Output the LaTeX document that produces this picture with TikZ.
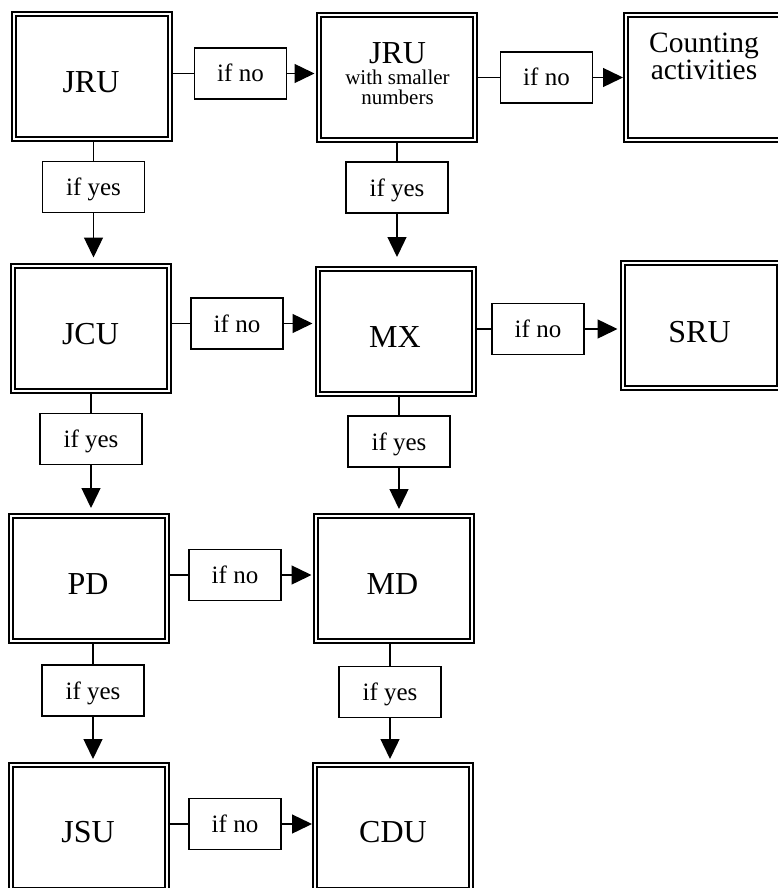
\documentclass[tikz,border=0pt]{standalone}
\usepackage{fontspec}
\setmainfont{Liberation Serif}
\usetikzlibrary{arrows.meta}
\begin{document}
\begin{tikzpicture}[x=1pt,y=-1pt,
  bigbox/.style={draw, line width=2pt, double, double distance=2pt,
    minimum width=156pt, minimum height=125pt, inner sep=0pt, outer sep=3pt},
  bigtext/.style={font=\fontsize{32}{32}\selectfont, inner sep=0pt, anchor=base},
  lblbox/.style={draw, line width=1.4pt, minimum height=51pt, inner sep=0pt,
    font=\fontsize{25}{25}\selectfont, text height=17pt, text depth=0pt},
  yesbox/.style={lblbox, minimum width=102pt},
  nobox/.style={lblbox, minimum width=92pt},
  conn/.style={line width=1.4pt},
  arr/.style={line width=1.4pt, -{Triangle[length=20pt,width=19pt]}}
]
\useasboundingbox (0,0) rectangle (777,888);

% main boxes
\node[bigbox] (jru)  at (92,76.5)    {};
\node[bigbox] (jru2) at (396.5,77.5) {};
\node[bigbox] (cnt)  at (704,77.5)   {};
\node[bigbox] (jcu)  at (91,328)     {};
\node[bigbox] (mx)   at (395.5,331.5){};
\node[bigbox] (sru)  at (700.5,325.5){};
\node[bigbox] (pd)   at (89,578.5)   {};
\node[bigbox] (md)   at (393.5,578.5){};
\node[bigbox] (jsu)  at (89,827.5)   {};
\node[bigbox] (cdu)  at (393,827.5)  {};

% texts
\node[bigtext] (jrut) at (91,93) {JRU};
\node[anchor=base, align=center, inner sep=0pt, font=\fontsize{21}{20}\selectfont] (jru2t) at (397.5,105)
  {{\fontsize{32}{22}\selectfont JRU}\\[1pt] with smaller\\ numbers};
\node[anchor=base, align=center, inner sep=0pt, font=\fontsize{29.5}{27}\selectfont] (cntt) at (704,80)
  {Counting\\ activities};
\node[bigtext] (jcut) at (90.5,344) {JCU};
\node[bigtext] (mxt)  at (395,347)  {MX};
\node[bigtext] (srut) at (699.5,342){SRU};
\node[bigtext] (pdt)  at (88,594)   {PD};
\node[bigtext] (mdt)  at (392.5,594){MD};
\node[bigtext] (jsut) at (88,842)   {JSU};
\node[bigtext] (cdut) at (393,842)  {CDU};

% label boxes
\node[yesbox] (yes1) at (93.5,187)  {if yes};
\node[yesbox] (yes2) at (397,187.5) {if yes};
\node[yesbox] (yes3) at (91,439)    {if yes};
\node[yesbox] (yes4) at (399,441.5) {if yes};
\node[yesbox] (yes5) at (93,690.5)  {if yes};
\node[yesbox] (yes6) at (390,692)   {if yes};
\node[nobox] (no1) at (240.5,73.5) {if no};
\node[nobox] (no2) at (546.5,77.5) {if no};
\node[nobox] (no3) at (237,323.5)  {if no};
\node[nobox] (no4) at (538,329)    {if no};
\node[nobox] (no5) at (235,575)    {if no};
\node[nobox] (no6) at (235,824)    {if no};

% vertical connectors
\draw[conn] (jru.south -| yes1) -- (yes1.north);
\draw[arr, shorten >=5pt] (yes1.south) -- (yes1.south |- jcu.north);
\draw[conn] (jru2.south -| yes2) -- (yes2.north);
\draw[arr, shorten >=9pt] (yes2.south) -- (yes2.south |- mx.north);
\draw[conn] (jcu.south -| yes3) -- (yes3.north);
\draw[arr, shorten >=5pt] (yes3.south) -- (yes3.south |- pd.north);
\draw[conn] (mx.south -| yes4) -- (yes4.north);
\draw[arr, shorten >=4pt] (yes4.south) -- (yes4.south |- md.north);
\draw[conn] (pd.south -| yes5) -- (yes5.north);
\draw[arr, shorten >=3pt] (yes5.south) -- (yes5.south |- jsu.north);
\draw[conn] (md.south -| yes6) -- (yes6.north);
\draw[arr, shorten >=3pt] (yes6.south) -- (yes6.south |- cdu.north);

% horizontal connectors
\draw[conn] (jru.east |- no1) -- (no1.west);
\draw[arr, shorten >=1pt] (no1.east) -- (no1.east -| jru2.west);
\draw[conn] (jru2.east |- no2) -- (no2.west);
\draw[arr] (no2.east) -- (no2.east -| cnt.west);
\draw[conn] (jcu.east |- no3) -- (no3.west);
\draw[arr, shorten >=2pt] (no3.east) -- (no3.east -| mx.west);
\draw[conn] (mx.east |- no4) -- (no4.west);
\draw[arr, shorten >=2pt] (no4.east) -- (no4.east -| sru.west);
\draw[conn] (pd.east |- no5) -- (no5.west);
\draw[arr, shorten >=1pt] (no5.east) -- (no5.east -| md.west);
\draw[conn] (jsu.east |- no6) -- (no6.west);
\draw[arr] (no6.east) -- (no6.east -| cdu.west);
\end{tikzpicture}
\end{document}
